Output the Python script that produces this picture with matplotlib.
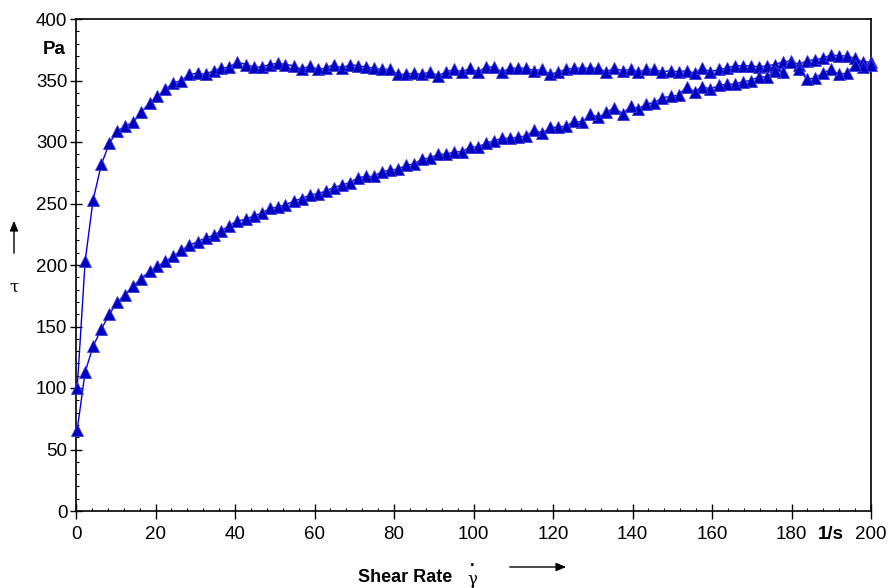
import matplotlib
matplotlib.use('Agg')
import matplotlib.pyplot as plt
from matplotlib.ticker import MultipleLocator

plt.rcParams['font.family'] = ['Liberation Sans', 'DejaVu Sans']

# Shear rate grid [1/s] (same for both ramps)
shear_rate = [0.3, 2.3, 4.3, 6.4, 8.4, 10.4, 12.4, 14.4, 16.4, 18.5,
              20.5, 22.5, 24.5, 26.5, 28.5, 30.6, 32.6, 34.6, 36.6, 38.6,
              40.6, 42.7, 44.7, 46.7, 48.7, 50.7, 52.7, 54.8, 56.8, 58.8,
              60.8, 62.8, 64.8, 66.9, 68.9, 70.9, 72.9, 74.9, 76.9, 79.0,
              81.0, 83.0, 85.0, 87.0, 89.0, 91.1, 93.1, 95.1, 97.1, 99.1,
              101.1, 103.2, 105.2, 107.2, 109.2, 111.2, 113.3, 115.3, 117.3, 119.3,
              121.3, 123.3, 125.4, 127.4, 129.4, 131.4, 133.4, 135.4, 137.5, 139.5,
              141.5, 143.5, 145.5, 147.5, 149.6, 151.6, 153.6, 155.6, 157.6, 159.6,
              161.7, 163.7, 165.7, 167.7, 169.7, 171.8, 173.8, 175.8, 177.8, 179.8,
              181.8, 183.9, 185.9, 187.9, 189.9, 191.9, 193.9, 196.0, 198.0, 200.0]

# Shear stress [Pa], up ramp (0 -> 200 1/s)
stress_up = [100, 203, 253, 282, 299, 309, 313, 316, 324, 332,
             337, 343, 348, 350, 355, 356, 355, 358, 360, 361,
             365, 363, 361, 361, 363, 364, 363, 362, 359, 362,
             359, 360, 363, 360, 363, 362, 361, 360, 359, 359,
             355, 355, 356, 355, 357, 354, 357, 359, 357, 360,
             357, 361, 361, 357, 360, 360, 360, 358, 359, 355,
             357, 359, 360, 360, 360, 360, 357, 360, 358, 359,
             357, 359, 359, 357, 358, 357, 358, 356, 360, 357,
             359, 360, 362, 362, 362, 361, 362, 363, 365, 366,
             363, 366, 367, 368, 371, 370, 370, 368, 365, 365]

# Shear stress [Pa], down ramp (listed by ascending shear rate)
stress_down = [66, 113, 134, 148, 160, 170, 176, 183, 189, 195,
               199, 203, 207, 212, 216, 219, 222, 224, 228, 232,
               236, 237, 240, 242, 246, 247, 249, 252, 254, 257,
               258, 260, 263, 265, 267, 271, 272, 272, 276, 277,
               278, 281, 282, 286, 287, 290, 290, 292, 292, 296,
               296, 299, 301, 303, 303, 304, 305, 310, 307, 312,
               312, 313, 317, 316, 323, 320, 324, 328, 323, 329,
               327, 331, 332, 336, 337, 338, 345, 341, 345, 343,
               346, 347, 347, 349, 350, 353, 353, 358, 357, 365,
               359, 351, 352, 356, 359, 355, 356, 363, 361, 363]

W, H = 892, 588
fig = plt.figure(figsize=(W / 100, H / 100), dpi=100)
ax = fig.add_axes([76 / W, 1 - 511 / H, (871 - 76) / W, (511 - 19) / H])

# one continuous loop: up then back down
x_loop = shear_rate + shear_rate[::-1]
y_loop = stress_up + stress_down[::-1]
ax.plot(x_loop, y_loop, color='#0000e0', lw=1.0, marker='^', ms=8.5,
        mfc='#0000c0', mec='#3a3ad8', mew=0.6, clip_on=False, zorder=3)

ax.set_xlim(0, 200)
ax.set_ylim(0, 400)
ax.xaxis.set_major_locator(MultipleLocator(20))
ax.xaxis.set_minor_locator(MultipleLocator(4))
ax.yaxis.set_major_locator(MultipleLocator(50))
ax.yaxis.set_minor_locator(MultipleLocator(10))
ax.tick_params(axis='x', which='major', direction='inout', length=10.8, width=1, pad=5.5, labelsize=13.5)
ax.tick_params(axis='y', which='major', direction='inout', length=8.6, width=1, pad=2, labelsize=13.5)
ax.tick_params(which='minor', direction='in', length=2.5, width=0.8)
for sp in ax.spines.values():
    sp.set_linewidth(1.2)

# unit labels
ax.annotate('1/s', xy=(190, 0), xycoords=('data', 'axes fraction'), xytext=(0, -10.9),
            textcoords='offset points', ha='center', va='top', fontsize=13.5, fontweight='bold')
ax.text(-0.0135, 375 / 400, 'Pa', transform=ax.transAxes, ha='right', va='center',
        fontsize=13.5, fontweight='bold')

# x-axis title with gamma-dot and arrow
fig.text(405 / W, 1 - 577 / H, 'Shear Rate', ha='center', va='center', fontsize=13, fontweight='bold')
fig.text(472 / W, 1 - 579 / H, 'γ', ha='center', va='center', fontsize=12, family='DejaVu Serif')
fig.text(472 / W, 1 - 562 / H, '.', ha='center', va='center', fontsize=12, fontweight='bold')
fig.patches.append(matplotlib.patches.FancyArrowPatch(
    (507 / W, 1 - 567 / H), (569 / W, 1 - 567 / H), transform=fig.transFigure,
    arrowstyle='-|>,head_length=6,head_width=2.5', color='black', lw=1))

# y-axis title tau with arrow
fig.text(14 / W, 1 - 287 / H, 'τ', ha='center', va='center', fontsize=12, family='DejaVu Serif')
fig.patches.append(matplotlib.patches.FancyArrowPatch(
    (14 / W, 1 - 256 / H), (14 / W, 1 - 218 / H), transform=fig.transFigure,
    arrowstyle='-|>,head_length=6,head_width=2.5', color='black', lw=1))

fig.savefig('out.png', dpi=100)
